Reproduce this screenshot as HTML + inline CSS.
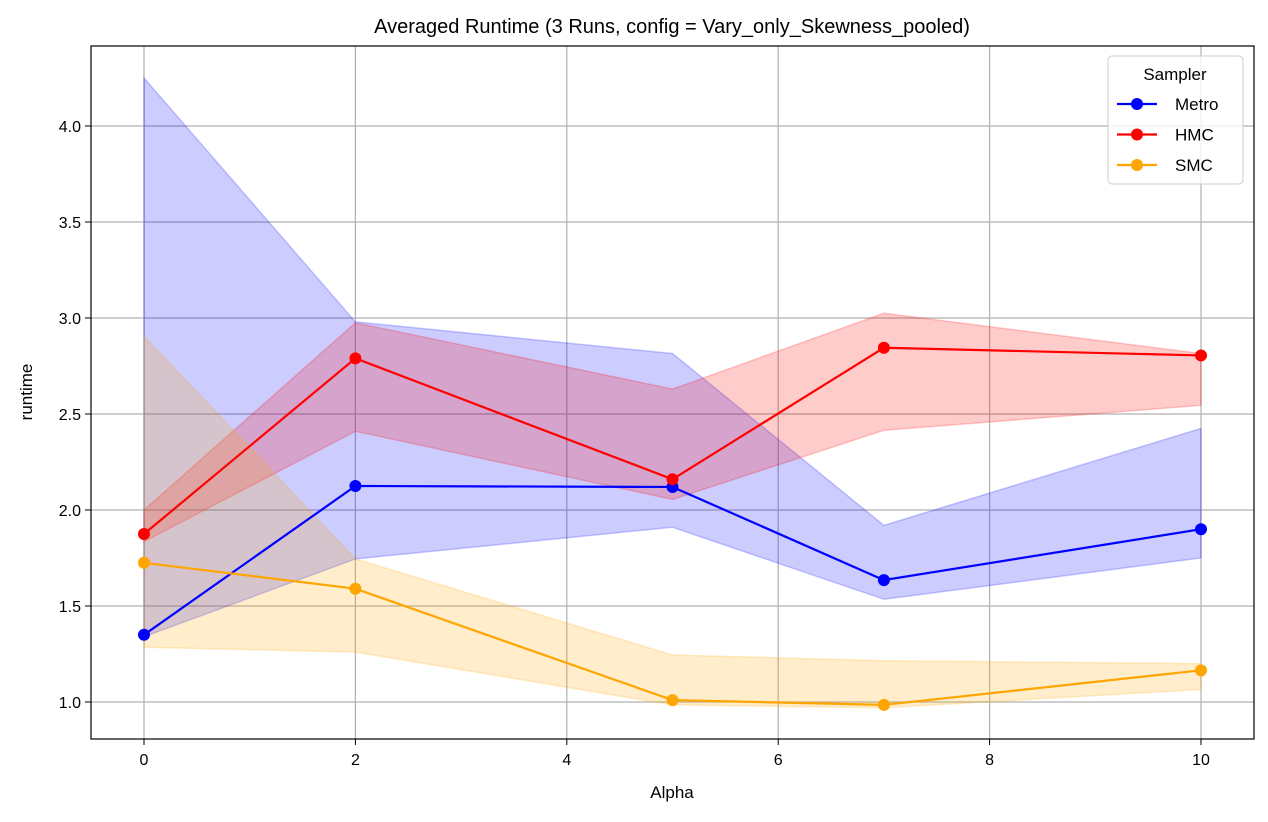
<!DOCTYPE html>
<html><head><meta charset="utf-8"><style>
body{margin:0;background:#fff;}
svg text{font-family:"Liberation Sans","DejaVu Sans",sans-serif;}
</style></head><body>
<svg id="chart" width="1268" height="817" xmlns="http://www.w3.org/2000/svg">
<rect width="1268" height="817" fill="#fff"/>
<text x="672" y="33" font-size="20" text-anchor="middle">Averaged Runtime (3 Runs, config = Vary_only_Skewness_pooled)</text>
<g id="grid"></g>
<g id="bands"></g>
<g id="lines"></g>
<rect x="91" y="46" width="1163" height="693" fill="none" stroke="#000" stroke-width="1.2"/>
<g id="ticks"></g>
<text x="672" y="798" font-size="17" text-anchor="middle">Alpha</text>
<text transform="translate(32,392) rotate(-90)" font-size="17" text-anchor="middle">runtime</text>
<g id="legend">
<rect x="1108" y="56" width="135" height="128" rx="4" fill="#fff" fill-opacity="0.8" stroke="#ccc"/>
<text x="1175" y="80" font-size="17" text-anchor="middle">Sampler</text>
</g>
</svg>
<script>
const alphas=[0,2,5,7,10];
const names=["Metro","HMC","SMC"];
const colors=["#0000ff","#ff0000","#ffa500"];
const metroMean=[1.35,2.125,2.12,1.635,1.90];
const metroUpper=[4.25,2.98,2.815,1.92,2.425];
const metroLower=[1.34,1.745,1.91,1.535,1.75];
const hmcMean=[1.875,2.79,2.16,2.845,2.805];
const hmcUpper=[2.0,2.975,2.63,3.025,2.815];
const hmcLower=[1.835,2.41,2.055,2.415,2.545];
const smcMean=[1.725,1.59,1.01,0.985,1.165];
const smcUpper=[2.905,1.745,1.245,1.215,1.2];
const smcLower=[1.285,1.26,0.985,0.97,1.065];
const xTicks=[0,2,4,6,8,10];
const yTicks=[1.0,1.5,2.0,2.5,3.0,3.5,4.0];
const ns="http://www.w3.org/2000/svg";
const X=v=>144+v*105.7;
const Y=v=>702-(v-1)*192;
function mk(t,a,p){const e=document.createElementNS(ns,t);for(const k in a)e.setAttribute(k,a[k]);p.appendChild(e);return e;}
const grid=document.getElementById('grid'),ticks=document.getElementById('ticks');
xTicks.forEach(v=>{
 const g=mk('line',{x1:X(v),x2:X(v),y1:46,y2:739,stroke:'#b0b0b0','stroke-width':1.2},grid);
 
 mk('line',{x1:X(v),x2:X(v),y1:739,y2:745,stroke:'#000'},ticks);
 const t=mk('text',{x:X(v),y:765,'font-size':16,'text-anchor':'middle'},ticks);t.textContent=v;
 
});
yTicks.forEach(v=>{
 const g=mk('line',{x1:91,x2:1254,y1:Y(v),y2:Y(v),stroke:'#b0b0b0','stroke-width':1.2},grid);
 
 mk('line',{x1:85,x2:91,y1:Y(v),y2:Y(v),stroke:'#000'},ticks);
 const t=mk('text',{x:81,y:Y(v)+6,'font-size':16,'text-anchor':'end'},ticks);t.textContent=v.toFixed(1);
 
});
const series=[[metroMean,metroUpper,metroLower],[hmcMean,hmcUpper,hmcLower],[smcMean,smcUpper,smcLower]];
const bands=document.getElementById('bands'),lines=document.getElementById('lines');
series.forEach((s,i)=>{
 const [m,u,l]=s;
 let pts=alphas.map((a,j)=>X(a)+','+Y(u[j]));
 pts=pts.concat(alphas.map((a,j)=>X(a)+','+Y(l[j])).reverse());
 const b=mk('polygon',{points:pts.join(' '),fill:colors[i],'fill-opacity':0.2,stroke:colors[i],'stroke-opacity':0.2,'stroke-width':1.5},bands);
 
});
series.forEach((s,i)=>{
 const m=s[0];
 const p=mk('polyline',{points:alphas.map((a,j)=>X(a)+','+Y(m[j])).join(' '),fill:'none',stroke:colors[i],'stroke-width':2.2},lines);
 
 alphas.forEach((a,j)=>{
  const c=mk('circle',{cx:X(a),cy:Y(m[j]),r:6,fill:colors[i]},lines);
  
 });
});
const leg=document.getElementById('legend');
names.forEach((n,i)=>{
 const y=104+i*30.5;
 const e=mk('g',{},leg);
 
 mk('line',{x1:1117,x2:1157,y1:y,y2:y,stroke:colors[i],'stroke-width':2.2},e);
 mk('circle',{cx:1137,cy:y,r:6,fill:colors[i]},e);
 const t=mk('text',{x:1175,y:y+6,'font-size':17},e);t.textContent=n;
});
</script>
</body></html>
